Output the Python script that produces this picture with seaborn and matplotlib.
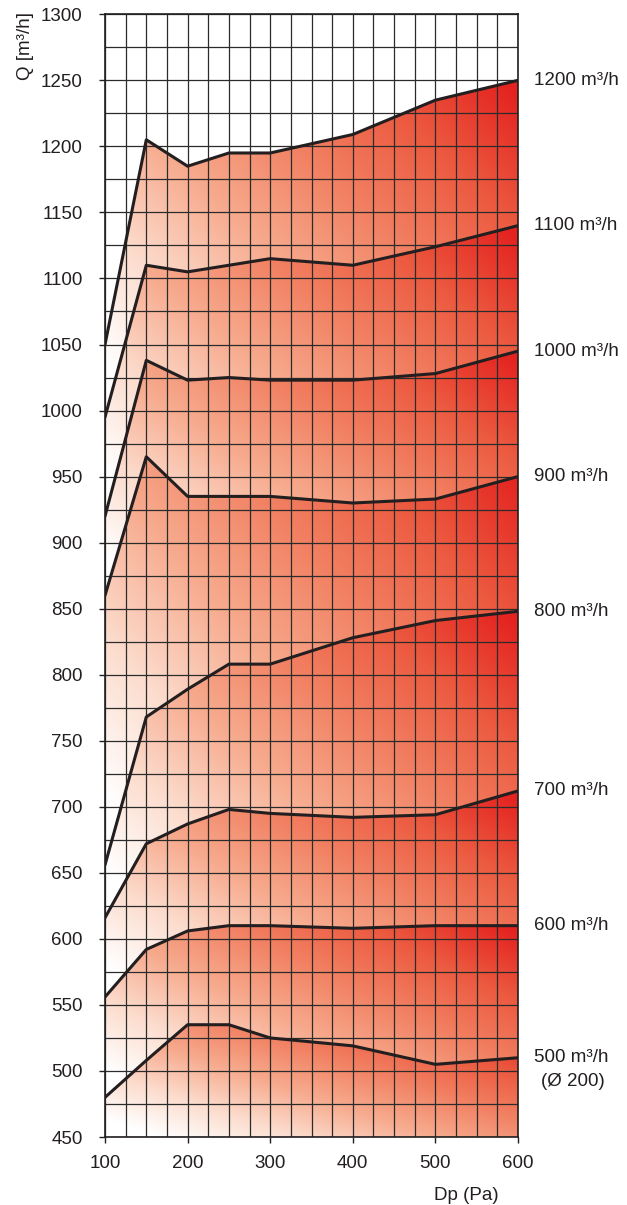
import numpy as np
import pandas as pd
import seaborn as sns
import matplotlib
matplotlib.use("Agg")
import matplotlib.pyplot as plt
from matplotlib.colors import LinearSegmentedColormap
from matplotlib.ticker import MultipleLocator

# Dp (Pa) points of each curve
dp = [100, 150, 200, 250, 300, 400, 500, 600]

# Q [m3/h] for each fan curve
q500 = [480, 508, 535, 535, 525, 519, 505, 510]
q600 = [556, 592, 606, 610, 610, 608, 610, 610]
q700 = [616, 672, 687, 698, 695, 692, 694, 712]
q800 = [656, 768, 789, 808, 808, 828, 841, 848]
q900 = [860, 965, 935, 935, 935, 930, 933, 950]
q1000 = [920, 1038, 1023, 1025, 1023, 1023, 1028, 1045]
q1100 = [995, 1110, 1105, 1110, 1115, 1110, 1124, 1140]
q1200 = [1050, 1205, 1185, 1195, 1195, 1209, 1235, 1250]

curves = [q500, q600, q700, q800, q900, q1000, q1100, q1200]
curve_labels = ["500 m³/h", "600 m³/h", "700 m³/h", "800 m³/h",
                "900 m³/h", "1000 m³/h", "1100 m³/h", "1200 m³/h"]

# long format for seaborn
df = pd.DataFrame({
    "Dp": np.tile(dp, len(curves)),
    "Q": np.concatenate(curves),
    "curve": np.repeat(curve_labels, len(dp)),
})

sns.set_theme(style="white")
plt.rcParams["font.family"] = ["Liberation Sans", "DejaVu Sans"]
ink = "#231f20"
fs = 13.5

fig = plt.figure(figsize=(6.27, 12.05), dpi=100)
ax = fig.add_axes([105 / 627, 68 / 1205, 413 / 627, 1122.7 / 1205])

cmap = LinearSegmentedColormap.from_list(
    "band", ["#ffffff", "#fcdccd", "#f7ab8e", "#f28163", "#ec5a40", "#e42320"])

# gradient bands between consecutive curves (light lower-left -> red upper-right)
xs = np.linspace(100, 600, 300)
lower_curves = [[450] * len(dp)] + curves[:-1]
for lo, hi in zip(lower_curves, curves):
    ylo, yhi = min(lo), max(hi)
    ys = np.linspace(ylo, yhi, 300)
    X, Y = np.meshgrid((xs - 100) / 500, (ys - ylo) / (yhi - ylo))
    t = np.clip(0.6 * X + 0.5 * Y - 0.08, 0, 1)
    im = ax.imshow(t, cmap=cmap, vmin=0, vmax=1, origin="lower",
                   extent=[100, 600, ylo, yhi], aspect="auto", zorder=1,
                   interpolation="bilinear")
    poly = ax.fill_between(dp, lo, hi, facecolor="none", edgecolor="none")
    im.set_clip_path(poly.get_paths()[0], ax.transData)

sns.lineplot(data=df, x="Dp", y="Q", hue="curve", palette=[ink] * len(curves),
             legend=False, ax=ax, linewidth=2.2, zorder=4, sort=False,
             estimator=None)

ax.set_xlim(100, 600)
ax.set_ylim(450, 1300)
ax.xaxis.set_major_locator(MultipleLocator(100))
ax.xaxis.set_minor_locator(MultipleLocator(25))
ax.yaxis.set_major_locator(MultipleLocator(50))
ax.yaxis.set_minor_locator(MultipleLocator(25))
ax.set_axisbelow(False)
ax.grid(True, which="both", color="#2b2b2b", linewidth=0.9, zorder=3)

ax.tick_params(which="major", direction="out", length=4, width=1, color=ink,
               labelsize=fs, labelcolor=ink, left=True, bottom=True)
ax.tick_params(axis="x", which="major", pad=9)
ax.tick_params(axis="y", which="major", pad=12)
ax.tick_params(which="minor", length=0)
for sp in ax.spines.values():
    sp.set_color(ink)
    sp.set_linewidth(1.2)
    sp.set_zorder(5)

ax.set_xlabel("")
ax.set_ylabel("")
fig.text(25 / 627, 1 - 12 / 1205, "Q [m³/h]", rotation=90, ha="center",
         va="top", fontsize=fs, color=ink)
fig.text(466 / 627, 1 - 1195 / 1205, "Dp (Pa)", ha="center", va="center",
         fontsize=fs, color=ink)

# labels at the right end of each curve
for q, lab in zip(curves, curve_labels):
    ax.annotate(lab, xy=(600, q[-1]), xytext=(16, 0), textcoords="offset pixels",
                ha="left", va="center", fontsize=fs, color=ink,
                annotation_clip=False)
ax.annotate("(Ø 200)", xy=(600, q500[-1]), xytext=(55, -24),
            textcoords="offset pixels", ha="center", va="center", fontsize=fs,
            color=ink, annotation_clip=False)

fig.savefig("out.png", dpi=100)
